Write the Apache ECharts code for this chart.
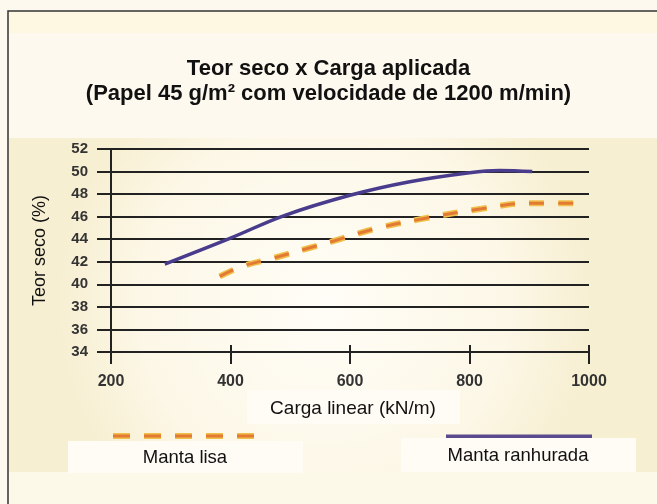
<!DOCTYPE html>
<html>
<head>
<meta charset="utf-8">
<script src="https://cdn.jsdelivr.net/npm/echarts@6/dist/echarts.min.js"></script>
<style>
html, body { margin: 0; padding: 0; background: #fdf9ee; }
#grafico { width: 657px; height: 504px; }
</style>
</head>
<body>
<div id="grafico"></div>
<script>
var titulo = 'Teor seco x Carga aplicada\n(Papel 45 g/m² com velocidade de 1200 m/min)';
var nomeLisa = 'Manta lisa';
var nomeRanhurada = 'Manta ranhurada';

// carga linear (kN/m), teor seco (%)
var cargaLisa = [382, 420, 470, 530, 570, 640, 720, 820, 900, 990];
var teorLisa = [40.7, 41.6, 42.3, 43.2, 43.8, 44.9, 45.8, 46.7, 47.2, 47.2];
var cargaRanhurada = [290, 400, 490, 600, 700, 800, 850, 905];
var teorRanhurada = [41.8, 44.1, 46.1, 47.9, 49.1, 49.9, 50.1, 50.0];

var ticksX = [200, 400, 600, 800, 1000];
var ticksY = [34, 36, 38, 40, 42, 44, 46, 48, 50, 52];

function pares(xs, ys) {
    var out = [];
    for (var i = 0; i < xs.length; i++) out.push([xs[i], ys[i]]);
    return out;
}

var dom = document.getElementById("grafico");
var myChart = echarts.init(dom, null, { renderer: 'canvas' });

var fonte = 'Liberation Sans';

option = {
    backgroundColor: '#fdf9ee',
    animation: false,
    graphic: [
        { type: 'rect', z: -10, shape: { x: 8, y: 11, width: 700, height: 600 },
          style: { fill: '#fdf9ef', stroke: '#333', lineWidth: 1.5 } },
        { type: 'rect', z: -9, shape: { x: 9, y: 12, width: 700, height: 21 },
          style: { fill: '#fef7e2' } },
        { type: 'rect', z: -9, shape: { x: 9, y: 138, width: 700, height: 334 },
          style: { fill: new echarts.graphic.RadialGradient(0.45, 0.5, 0.8, [
              { offset: 0, color: '#fffdf7' },
              { offset: 0.7, color: '#fcf7e6' },
              { offset: 1, color: '#f7efd2' }
          ]) } },
        { type: 'rect', z: -9, shape: { x: 9, y: 472, width: 700, height: 40 },
          style: { fill: '#fdf9e8' } },
        // caixa do titulo do eixo x
        { type: 'rect', z: 5, shape: { x: 247, y: 390, width: 213, height: 34 },
          style: { fill: '#fefcf4' } },
        { type: 'text', z: 6, x: 353, y: 409,
          style: { text: 'Carga linear (kN/m)', fill: '#111', fontSize: 19,
                   fontFamily: fonte, align: 'center', verticalAlign: 'middle' } },
        // legenda
        { type: 'line', z: 5, shape: { x1: 113, y1: 436, x2: 256, y2: 436 },
          style: { stroke: '#f0c04a', lineWidth: 6, lineDash: [17, 14] } },
        { type: 'line', z: 6, shape: { x1: 113, y1: 436, x2: 256, y2: 436 },
          style: { stroke: '#e27a34', lineWidth: 3, lineDash: [17, 14] } },
        { type: 'rect', z: 7, shape: { x: 68, y: 441, width: 235, height: 32 },
          style: { fill: '#fefcf4' } },
        { type: 'text', z: 8, x: 185, y: 458,
          style: { text: nomeLisa, fill: '#111', fontSize: 18.5,
                   fontFamily: fonte, align: 'center', verticalAlign: 'middle' } },
        { type: 'line', z: 5, shape: { x1: 446, y1: 437, x2: 592, y2: 437 },
          style: { stroke: '#5b4a8e', lineWidth: 5 } },
        { type: 'rect', z: 7, shape: { x: 401, y: 438, width: 235, height: 34 },
          style: { fill: '#fefcf4' } },
        { type: 'text', z: 8, x: 518, y: 456,
          style: { text: nomeRanhurada, fill: '#111', fontSize: 18.5,
                   fontFamily: fonte, align: 'center', verticalAlign: 'middle' } }
    ],
    title: {
        text: titulo,
        left: 'center',
        top: 51,
        textStyle: { fontSize: 22, fontWeight: 'bold', color: '#111', lineHeight: 25,
                     fontFamily: fonte }
    },
    grid: { left: 111, right: 68, top: 149, bottom: 152, containLabel: false },
    xAxis: [
        {
            type: 'value',
            min: ticksX[0],
            max: ticksX[ticksX.length - 1],
            interval: 200,
            axisLine: { show: true, lineStyle: { color: '#222', width: 2 } },
            axisTick: { show: true, length: 12, lineStyle: { color: '#222', width: 2 } },
            axisLabel: { color: '#333', fontWeight: 'bold', fontSize: 16, margin: 22, fontFamily: fonte,
                         formatter: function (v) { return String(v); } },
            splitLine: { show: false }
        },
        {
            type: 'value', min: 200, max: 1000, interval: 200,
            position: 'bottom',
            axisLine: { show: false },
            axisTick: { show: true, inside: true, length: 7, lineStyle: { color: '#222', width: 2 } },
            axisLabel: { show: false },
            splitLine: { show: false }
        }
    ],
    yAxis: {
        type: 'value',
        min: ticksY[0],
        max: ticksY[ticksY.length - 1],
        interval: 2,
        name: 'Teor seco (%)',
        nameLocation: 'middle',
        nameGap: 62,
        nameTextStyle: { fontSize: 18, color: '#111', fontFamily: fonte },
        axisLine: { show: true, lineStyle: { color: '#222', width: 2 } },
        axisTick: { show: true, length: 14, lineStyle: { color: '#222', width: 2 } },
        axisLabel: { color: '#333', fontWeight: 'bold', fontSize: 15, margin: 23, fontFamily: fonte },
        splitLine: { show: true, lineStyle: { color: '#222', width: 2 } }
    },
    series: [
        {
            name: nomeRanhurada,
            type: 'line',
            data: pares(cargaRanhurada, teorRanhurada),
            smooth: 0.4,
            showSymbol: false,
            z: 4,
            lineStyle: { color: '#4a3c8c', width: 3.5 }
        },
        {
            name: nomeLisa + ' contorno',
            type: 'line',
            data: pares(cargaLisa, teorLisa),
            smooth: 0.4,
            showSymbol: false,
            z: 3,
            lineStyle: { color: '#f0c04a', width: 6, type: [15, 14] }
        },
        {
            name: nomeLisa,
            type: 'line',
            data: pares(cargaLisa, teorLisa),
            smooth: 0.4,
            showSymbol: false,
            z: 4,
            lineStyle: { color: '#e27a34', width: 3, type: [15, 14] }
        }
    ]
};
if (option && typeof option === "object") {
    myChart.setOption(option, true);
}
</script>
</body>
</html>
